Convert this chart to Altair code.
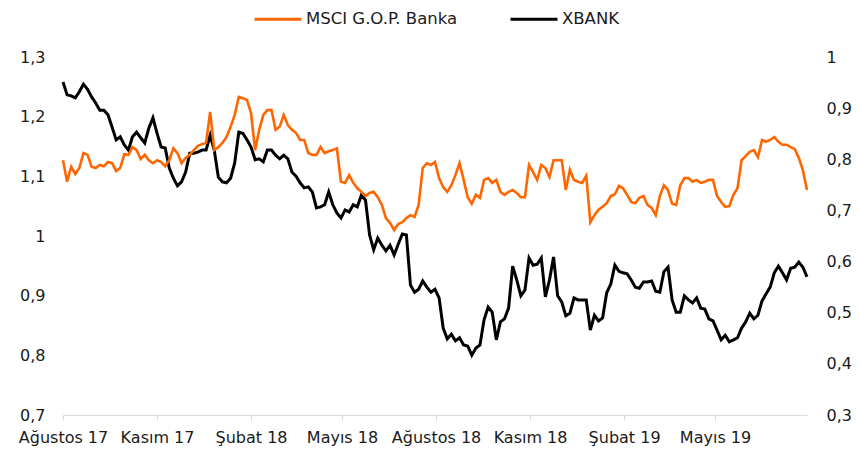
import altair as alt
import pandas as pd

# --- data (4-day sampling from 1 Aug 2017) ---
start_date = "2017-08-01"
end_date = "2019-07-30"

msci = [1.127,1.091,1.116,1.104,1.114,1.139,1.136,1.116,1.114,1.119,
        1.117,1.124,1.122,1.109,1.114,1.137,1.136,1.149,1.144,1.129,
        1.136,1.127,1.122,1.127,1.124,1.117,1.127,1.147,1.139,1.122,
        1.131,1.136,1.144,1.151,1.154,1.156,1.208,1.144,1.149,1.156,
        1.166,1.183,1.203,1.233,1.231,1.228,1.206,1.144,1.178,1.203,
        1.211,1.211,1.178,1.183,1.203,1.186,1.178,1.173,1.161,1.161,
        1.139,1.136,1.136,1.149,1.139,1.142,1.144,1.147,1.091,1.089,
        1.102,1.089,1.080,1.074,1.067,1.072,1.074,1.065,1.052,1.030,
        1.022,1.010,1.020,1.023,1.030,1.035,1.032,1.052,1.114,1.122,
        1.119,1.124,1.097,1.082,1.074,1.085,1.102,1.122,1.094,1.065,
        1.054,1.069,1.064,1.094,1.097,1.089,1.094,1.074,1.069,1.074,
        1.077,1.072,1.065,1.065,1.119,1.107,1.094,1.119,1.114,1.099,
        1.127,1.127,1.127,1.077,1.111,1.094,1.091,1.089,1.101,1.023,
        1.035,1.044,1.049,1.055,1.067,1.070,1.084,1.080,1.069,1.057,
        1.055,1.064,1.067,1.052,1.047,1.035,1.067,1.085,1.077,1.054,
        1.052,1.085,1.097,1.097,1.091,1.094,1.089,1.091,1.094,1.094,
        1.067,1.057,1.049,1.050,1.069,1.080,1.127,1.134,1.141,1.144,
        1.132,1.161,1.158,1.161,1.166,1.158,1.153,1.153,1.149,1.146,
        1.131,1.110,1.077]

xbank = [0.951,0.926,0.924,0.920,0.932,0.947,0.937,0.922,0.910,0.896,
         0.896,0.887,0.863,0.838,0.844,0.828,0.818,0.844,0.853,0.842,
         0.832,0.861,0.881,0.851,0.824,0.822,0.783,0.763,0.748,0.756,
         0.775,0.812,0.812,0.814,0.818,0.818,0.847,0.818,0.765,0.756,
         0.754,0.763,0.793,0.853,0.851,0.838,0.824,0.799,0.801,0.795,
         0.818,0.818,0.808,0.801,0.808,0.801,0.775,0.767,0.754,0.744,
         0.746,0.736,0.705,0.707,0.711,0.736,0.711,0.695,0.685,0.701,
         0.697,0.711,0.707,0.730,0.720,0.652,0.623,0.646,0.632,0.621,
         0.632,0.613,0.634,0.654,0.652,0.554,0.540,0.546,0.562,0.550,
         0.540,0.546,0.529,0.470,0.449,0.458,0.445,0.451,0.437,0.435,
         0.417,0.431,0.437,0.486,0.511,0.501,0.447,0.482,0.488,0.509,
         0.591,0.564,0.533,0.544,0.607,0.593,0.595,0.607,0.531,0.564,
         0.609,0.533,0.521,0.494,0.499,0.529,0.525,0.525,0.525,0.466,
         0.495,0.484,0.490,0.539,0.556,0.593,0.581,0.578,0.576,0.564,
         0.550,0.548,0.560,0.560,0.562,0.542,0.540,0.580,0.589,0.525,
         0.501,0.501,0.533,0.525,0.519,0.529,0.509,0.507,0.488,0.484,
         0.466,0.447,0.456,0.443,0.447,0.451,0.470,0.482,0.499,0.488,
         0.495,0.523,0.537,0.550,0.578,0.591,0.578,0.564,0.587,0.589,
         0.599,0.589,0.570]

series_names = ["MSCI G.O.P. Banka", "XBANK"]
series_colors = ["#FF6600", "#000000"]

month_names_tr = ["Ocak", "Şubat", "Mart", "Nisan", "Mayıs", "Haziran",
                  "Temmuz", "Ağustos", "Eylül", "Ekim", "Kasım", "Aralık"]
x_tick_dates = ["2017-08-01", "2017-11-01", "2018-02-01", "2018-05-01",
                "2018-08-01", "2018-11-01", "2019-02-01", "2019-05-01"]
left_ticks = [0.7, 0.8, 0.9, 1.0, 1.1, 1.2, 1.3]
right_ticks = [0.3, 0.4, 0.5, 0.6, 0.7, 0.8, 0.9, 1.0]

# --- build tables ---
dates = pd.date_range(start_date, periods=len(msci), freq="4D").strftime("%Y-%m-%d")
df_m = pd.DataFrame({"date": dates, "value": msci, "series": series_names[0]})
df_x = pd.DataFrame({"date": dates, "value": xbank, "series": series_names[1]})


def ms(d):
    return int(pd.Timestamp(d).value // 10**6)


tick_ms = [ms(d) for d in x_tick_dates]
FONT = "DejaVu Sans"
TXT = "#1a1a1a"

month_js = "[" + ",".join("'" + m + "'" for m in month_names_tr) + "]"
x_label_expr = month_js + "[utcmonth(datum.value)] + ' ' + utcFormat(datum.value, '%y')"
num_label_expr = "replace(format(datum.value, '.1~f'), '.', ',')"

x_enc = alt.X(
    "date:T",
    scale=alt.Scale(type="utc", domain=[ms(start_date), ms(end_date)]),
    axis=alt.Axis(values=tick_ms, labelExpr=x_label_expr, title=None, grid=False,
                  domainColor="#D9D9D9", tickColor="#D9D9D9", tickSize=5,
                  labelPadding=9, labelFontSize=16, labelFont=FONT, labelColor=TXT,
                  labelFlush=False, labelOverlap=False, labelAngle=0),
)

color_enc = alt.Color(
    "series:N",
    scale=alt.Scale(domain=series_names, range=series_colors),
    sort=series_names,
    legend=alt.Legend(orient="none", legendX=190, legendY=-63, direction="horizontal",
                      title=None, symbolType="stroke", symbolSize=2209,
                      symbolStrokeWidth=3, labelFontSize=16.5, labelFont=FONT,
                      labelColor=TXT, labelLimit=400, columnPadding=46, padding=0,
                      labelOffset=3),
)

black = alt.Chart(df_x).mark_line(strokeWidth=3).encode(
    x=x_enc,
    y=alt.Y("value:Q",
            scale=alt.Scale(domain=[0.3, 1.0], nice=False, zero=False),
            axis=alt.Axis(orient="right", values=right_ticks, labelExpr=num_label_expr,
                          title=None, grid=False, domain=False, ticks=False,
                          labelPadding=19, labelFontSize=16, labelFont=FONT,
                          labelColor=TXT, labelAlign="left")),
    color=color_enc,
)

orange = alt.Chart(df_m).mark_line(strokeWidth=2.6).encode(
    x=x_enc,
    y=alt.Y("value:Q",
            scale=alt.Scale(domain=[0.7, 1.3], nice=False, zero=False),
            axis=alt.Axis(orient="left", values=left_ticks, labelExpr=num_label_expr,
                          title=None, grid=False, domain=False, ticks=False,
                          labelPadding=18, labelFontSize=16, labelFont=FONT,
                          labelColor=TXT)),
    color=color_enc,
)

chart = (
    alt.layer(black, orange)
    .resolve_scale(y="independent")
    .properties(width=744, height=358,
                autosize=alt.AutoSizeParams(type="none"),
                padding={"left": 55, "top": 49, "right": 45, "bottom": 36},
                background="white")
    .configure_view(stroke=None)
)

chart.save("out.html", embed_options={"renderer": "svg", "actions": False})
